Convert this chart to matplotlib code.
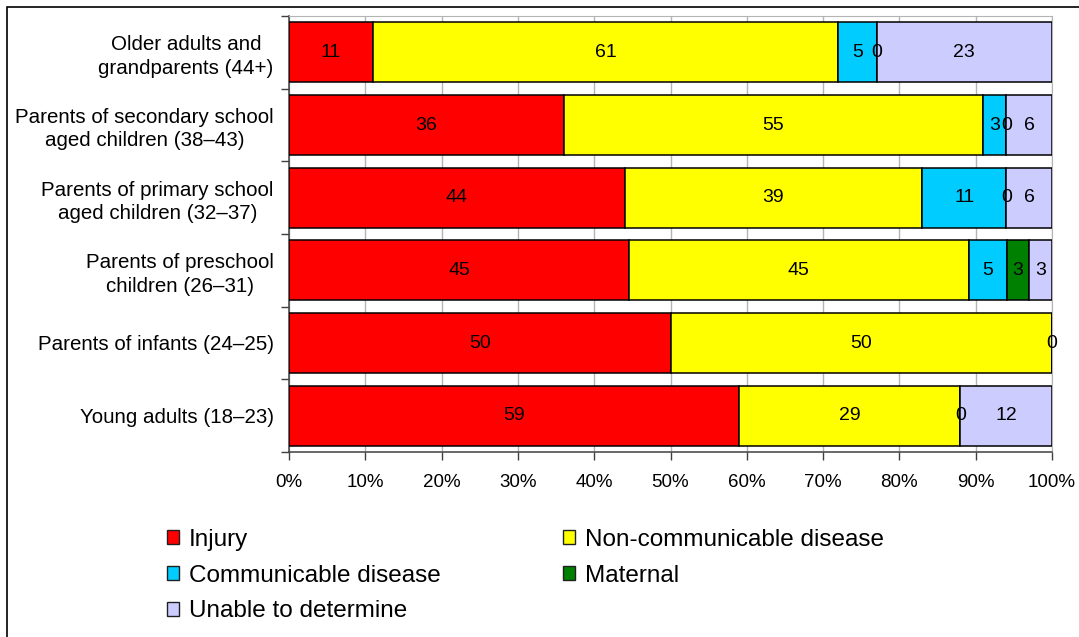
"""
100% stacked horizontal bars: cause-of-death mix by life stage.
Saves out.png (1079x637).
"""

import numpy as np
import matplotlib
matplotlib.use("Agg")
import matplotlib.pyplot as plt
from matplotlib.patches import Patch, Rectangle
from matplotlib.ticker import FixedLocator, MultipleLocator, PercentFormatter

# categories listed top -> bottom as in the chart
CATEGORIES = [
    "Older adults and\ngrandparents (44+)",
    "Parents of secondary school\naged children (38\u201343)",
    "Parents of primary school\naged children (32\u201337)",
    "Parents of preschool\nchildren (26\u201331)",
    "Parents of infants (24\u201325)",
    "Young adults (18\u201323)",
]
INJURY       = [11, 36, 44, 45, 50, 59]
NCD          = [61, 55, 39, 45, 50, 29]
COMMUNICABLE = [5, 3, 11, 5, 0, 0]
MATERNAL     = [0, 0, 0, 3, None, None]
UNABLE       = [23, 6, 6, 3, None, 12]

SERIES_NAMES = ["Injury", "Non-communicable disease", "Communicable disease",
                "Maternal", "Unable to determine"]
SERIES_COLOR = {
    "Injury": "#ff0000",
    "Non-communicable disease": "#ffff00",
    "Communicable disease": "#00ccff",
    "Maternal": "#008000",
    "Unable to determine": "#ccccff",
}

FONT = "Liberation Sans"
plt.rcParams.update({"font.family": [FONT, "DejaVu Sans"]})

W, H = 1079, 637
fig = plt.figure(figsize=(W / 100, H / 100), dpi=100)
ax = fig.add_axes([289 / W, 1 - 452 / H, (1052 - 289) / W, (452 - 16) / H])

series = [INJURY, NCD, COMMUNICABLE, MATERNAL, UNABLE]
vals = np.array([[np.nan if v is None else v for v in s] for s in series], float)
totals = np.nansum(vals, axis=0)
shares = np.nan_to_num(vals) / totals * 100

y = np.arange(len(CATEGORIES))
left = np.zeros(len(CATEGORIES))
for name, raw, sh in zip(SERIES_NAMES, vals, shares):
    bars = ax.barh(y, sh, left=left, height=0.83, color=SERIES_COLOR[name],
                   edgecolor="black", linewidth=1.1, zorder=3)
    labels = ["" if np.isnan(v) else f"{v:.0f}" for v in raw]
    ax.bar_label(bars, labels=labels, label_type="center", fontsize=14,
                 color="black", zorder=4)
    left += sh

ax.set_xlim(0, 100)
ax.set_ylim(len(CATEGORIES) - 0.5, -0.5)
ax.xaxis.set_major_locator(MultipleLocator(10))
ax.xaxis.set_major_formatter(PercentFormatter(decimals=0))
ax.tick_params(axis="x", length=6, width=1, color="#404040", pad=10,
               labelsize=13.5)

# category ticks sit between bars, labels at bar centres
ax.yaxis.set_major_locator(FixedLocator(np.arange(-0.5, len(CATEGORIES), 1)))
ax.yaxis.set_minor_locator(FixedLocator(y))
ax.set_yticklabels([], minor=False)
ax.set_yticklabels(CATEGORIES, minor=True)
ax.tick_params(axis="y", which="major", length=6, width=1, color="#404040")
ax.tick_params(axis="y", which="minor", length=0, pad=11, labelsize=14.8)
for t in ax.get_yticklabels(minor=True):
    t.set_multialignment("center")
    t.set_linespacing(1.3)

ax.grid(axis="x", color="#b4b4b4", lw=1.0, zorder=0)
ax.set_axisbelow(True)
for side in ["top", "right"]:
    ax.spines[side].set_color("#b4b4b4")
for side in ["left", "bottom"]:
    ax.spines[side].set_color("#404040")
    ax.spines[side].set_linewidth(1.1)

# legend in two hand-placed columns (row-major order like the original)
def legend_col(names, x):
    handles = [Patch(facecolor=SERIES_COLOR[n], edgecolor="#202020", lw=1.0)
               for n in names]
    fig.legend(handles, names, loc="upper left", bbox_to_anchor=(x, 1 - 529 / H),
               frameon=False, fontsize=17.5, borderpad=0, borderaxespad=0,
               handlelength=0.5, handleheight=0.5, handletextpad=0.4,
               labelspacing=0.56)

legend_col(["Injury", "Communicable disease", "Unable to determine"], 167 / W)
legend_col(["Non-communicable disease", "Maternal"], 563 / W)

# outer chart border (only top and left edges fall inside the image)
fig.patches.append(Rectangle((7 / W, -0.05), 1.2, 1.05 - 7 / H, fill=False,
                             edgecolor="black", lw=1.2,
                             transform=fig.transFigure, figure=fig))

fig.savefig("out.png", dpi=100, facecolor="white")
